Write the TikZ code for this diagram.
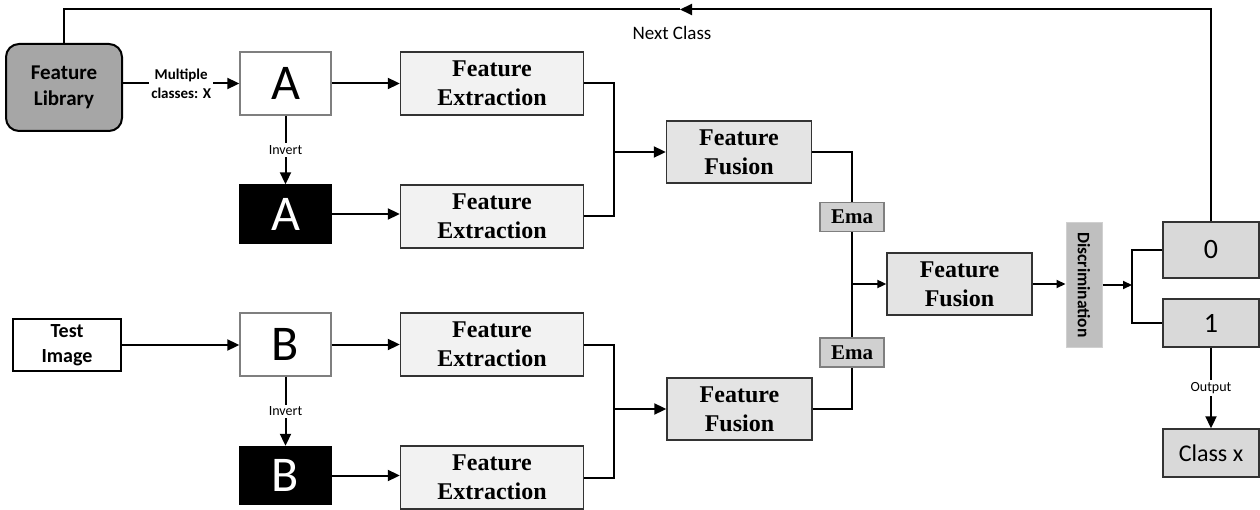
\documentclass[tikz,border=0pt]{standalone}
\usepackage{fontspec}
\usepackage{graphicx}
\setmainfont{Liberation Serif}
\newfontfamily\calib{Carlito}
\usetikzlibrary{arrows.meta,calc,positioning}

\begin{document}
\begin{tikzpicture}[x=1pt,y=-1pt, every node/.style={inner sep=0pt},
  box/.style={draw=bd, line width=1.4pt, align=center, anchor=center},
  featbox/.style={box, fill=fe, minimum width=183pt, minimum height=63pt, font=\bfseries\fontsize{24}{29}\selectfont},
  fusebox/.style={box, fill=ff, minimum width=145pt, minimum height=62pt, font=\bfseries\fontsize{24}{29}\selectfont},
  letterbox/.style={box, draw=gy, fill=white, minimum width=91pt, minimum height=63pt, font=\calib\fontsize{50}{50}\selectfont},
  invbox/.style={box, draw=black, fill=black, text=white, minimum width=91pt, minimum height=58pt, font=\calib\fontsize{50}{50}\selectfont},
  emabox/.style={box, draw=gy, fill=em, minimum width=64pt, minimum height=29pt, font=\bfseries\fontsize{21}{23}\selectfont},
  resbox/.style={box, fill=rs, minimum width=96pt, minimum height=48pt, font=\calib\fontsize{28}{30}\selectfont},
  wire/.style={line width=2pt},
  lnk/.style={wire, -{Triangle[length=12pt,width=11pt]}},
  slnk/.style={wire, -{Triangle[length=9pt,width=8pt]}},
  lbl/.style={fill=white, inner sep=2pt, align=center, font=\calib\fontsize{14}{16}\selectfont}]
\definecolor{bd}{HTML}{333333}\definecolor{gy}{HTML}{7F7F7F}
\definecolor{fe}{HTML}{F2F2F2}\definecolor{ff}{HTML}{E4E4E4}
\definecolor{em}{HTML}{D0D0D0}\definecolor{rs}{HTML}{D9D9D9}
\definecolor{lb}{HTML}{A6A6A6}\definecolor{dc}{HTML}{BFBFBF}
\useasboundingbox (0,0) rectangle (1260,510);

% sources
\node[box, draw=black, fill=lb, line width=2pt, rounded corners=13pt, minimum width=116pt, minimum height=87pt, font=\calib\bfseries\fontsize{21}{26}\selectfont] (lib) at (64,87.5) {Feature\\Library};
\node[box, draw=black, fill=white, line width=1.8pt, minimum width=108pt, minimum height=52pt, font=\calib\bfseries\fontsize{20}{25}\selectfont] (test) at (67,345) {Test\\Image};

% class branch
\node[letterbox] (imgA) at (285.5,83.5) {A};
\node[invbox] (invA) at (285.5,214) {A};
\node[featbox] (feA1) at (492,83.5) {Feature\\Extraction};
\node[featbox] (feA2) at (492,216.5) {Feature\\Extraction};
\node[fusebox] (ffA) at (739,152) {Feature\\Fusion};
\node[emabox] (emaA) at (852,217) {Ema};

% test branch
\node[letterbox] (imgB) at (285.5,344.5) {B};
\node[invbox] (invB) at (285.5,475.5) {B};
\node[featbox] (feB1) at (492,344.5) {Feature\\Extraction};
\node[featbox] (feB2) at (492,477.5) {Feature\\Extraction};
\node[fusebox] (ffB) at (739.5,409) {Feature\\Fusion};
\node[emabox] (emaB) at (852,352.5) {Ema};

% decision
\node[fusebox] (ffC) at (959.5,284) {Feature\\Fusion};
\node[box, draw=em, fill=dc, line width=1pt, minimum width=36pt, minimum height=124pt, font=\calib\bfseries\fontsize{17.5}{18}\selectfont] (disc) at (1084,285) {\rotatebox{-90}{Discrimination}};
\node[resbox, minimum height=56pt] (out0) at (1211,250) {0};
\node[resbox] (out1) at (1211,323) {1};
\node[resbox, font=\calib\fontsize{24}{26}\selectfont] (cls) at (1211,453) {Class x};

\coordinate (jA) at (614,152);
\coordinate (jB) at (614,409);
\coordinate (jD) at (1132,285);
\coordinate (nc) at (680,9.5);

\draw[lnk] (imgA.west -| lib.east) -- node[lbl, font=\calib\bfseries\fontsize{15}{19}\selectfont] {Multiple\\classes: X} (imgA.west);
\draw[lnk] (imgA) -- node[lbl] {Invert} (invA);
\draw[lnk] (imgA) -- (feA1);
\draw[lnk] (invA.east) -- (invA.east -| feA2.west);
\draw[wire] (feA1.east) -| (jA) |- (feA2.east);
\draw[lnk] (jA) -- (ffA);

\draw[lnk] (test) -- (test -| imgB.west);
\draw[lnk] (imgB) -- node[lbl] {Invert} (invB);
\draw[lnk] (imgB) -- (feB1);
\draw[lnk] (invB.east) -- (invB.east -| feB2.west);
\draw[wire] (feB1.east) -| (jB) |- (feB2.east);
\draw[lnk] (jB) -- (ffB);

\draw[wire] (ffA.east) -| (emaA.north);
\draw[wire] (ffB.east) -| (emaB.south);
\draw[wire] (emaA.south) -- (emaB.north);
\draw[slnk] (emaA.south |- ffC.west) -- (ffC.west);
\draw[slnk] (ffC.east) -- (ffC.east -| disc.west);
\draw[slnk] (disc.east) -- (jD);
\draw[wire] (out0.west) -| (jD) |- (out1.west);
\draw[lnk] (out1) -- node[lbl] {Output} (cls);

% loop back
\draw[lnk] (out0.north) |- (nc);
\draw[wire] (nc) -| (lib.north);
\node[font=\calib\fontsize{19}{22}\selectfont] (nxt) at (672,33) {Next Class};
\end{tikzpicture}
\end{document}
